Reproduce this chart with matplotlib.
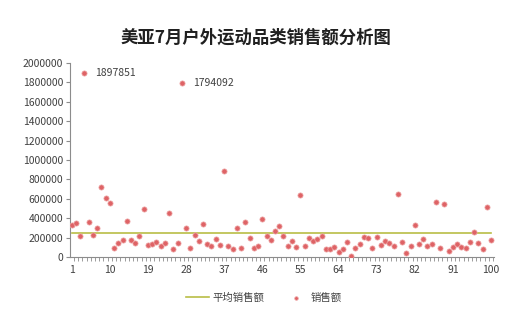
import numpy as np
import matplotlib
matplotlib.use("Agg")
import matplotlib.pyplot as plt
from matplotlib.ticker import MultipleLocator, FixedLocator, FuncFormatter

plt.rcParams['font.family'] = ['Noto Sans CJK SC', 'DejaVu Sans']

# sales per item
sales = [
    328000, 353000, 218000, 1897851, 363000, 224000, 301000, 723000, 613000, 561000,
    89000, 145000, 176000, 374000, 176000, 145000, 218000, 494000, 125000, 131000,
    159000, 114000, 145000, 457000, 83000, 145000, 1794092, 301000, 93000, 228000,
    166000, 343000, 135000, 114000, 187000, 125000, 883000, 117000, 83000, 301000,
    89000, 356000, 197000, 93000, 110000, 395000, 221000, 176000, 270000, 318000,
    218000, 114000, 166000, 104000, 644000, 114000, 200000, 166000, 187000, 218000,
    83000, 83000, 104000, 48000, 83000, 156000, 6000, 93000, 135000, 208000,
    197000, 89000, 208000, 120000, 169000, 145000, 114000, 654000, 156000, 42000,
    114000, 325000, 135000, 187000, 114000, 135000, 571000, 93000, 550000, 62000,
    104000, 135000, 104000, 93000, 156000, 260000, 145000, 79000, 519000, 176000,
]
items = list(range(1, len(sales) + 1))
x_labels = list(range(1, 101, 9))
avg_sales = float(np.mean(sales))

fig = plt.figure(figsize=(5.28, 3.22), dpi=100)
ax = fig.add_axes([0.1326, 0.2019, 0.803, 0.6024])

ax.plot(items, [avg_sales] * len(items), color='#B9BE45', lw=1.2, label='平均销售额')
ax.scatter(items, sales, s=14, color='#DE6366', edgecolors='#EFA8A8',
           linewidths=0.5, zorder=3, label='销售额')

for i, v in zip(items, sales):
    if v > 1000000:
        ax.annotate(str(v), (i, v), xytext=(8, 0), textcoords='offset points',
                    va='center', ha='left', fontsize=7.5, color='#404040')

ax.set_xlim(0.6, 100.7)
ax.set_ylim(0, 2000000)
ax.yaxis.set_major_locator(MultipleLocator(200000))
ax.yaxis.set_major_formatter(FuncFormatter(lambda v, p: '%d' % v))
ax.xaxis.set_major_locator(FixedLocator(x_labels))
ax.xaxis.set_minor_locator(FixedLocator([i + 0.5 for i in range(0, 101)]))
ax.set_xticklabels([str(v) for v in x_labels])

for s in ['top', 'right']:
    ax.spines[s].set_visible(False)
for s in ['left', 'bottom']:
    ax.spines[s].set_color('#8C8C8C')
    ax.spines[s].set_linewidth(0.8)

ax.tick_params(axis='y', which='major', direction='out', length=3, width=0.8,
               color='#8C8C8C', labelsize=7.5, labelcolor='#404040', pad=2)
ax.tick_params(axis='x', which='major', length=0, labelsize=7.5,
               labelcolor='#404040', pad=6)
ax.tick_params(axis='x', which='minor', direction='out', length=3, width=0.6,
               color='#8C8C8C')

fig.text(0.485, 0.882, '美亚7月户外运动品类销售额分析图', ha='center', va='center',
         fontsize=12.5, fontweight='bold', color='#202020')

fig.legend(loc='center', bbox_to_anchor=(0.5, 0.075), ncol=2, frameon=False,
           fontsize=7.5, handlelength=2.2, columnspacing=2.0, handletextpad=0.3,
           markerscale=0.7, labelcolor='#404040')

fig.savefig('out.png', dpi=100)
